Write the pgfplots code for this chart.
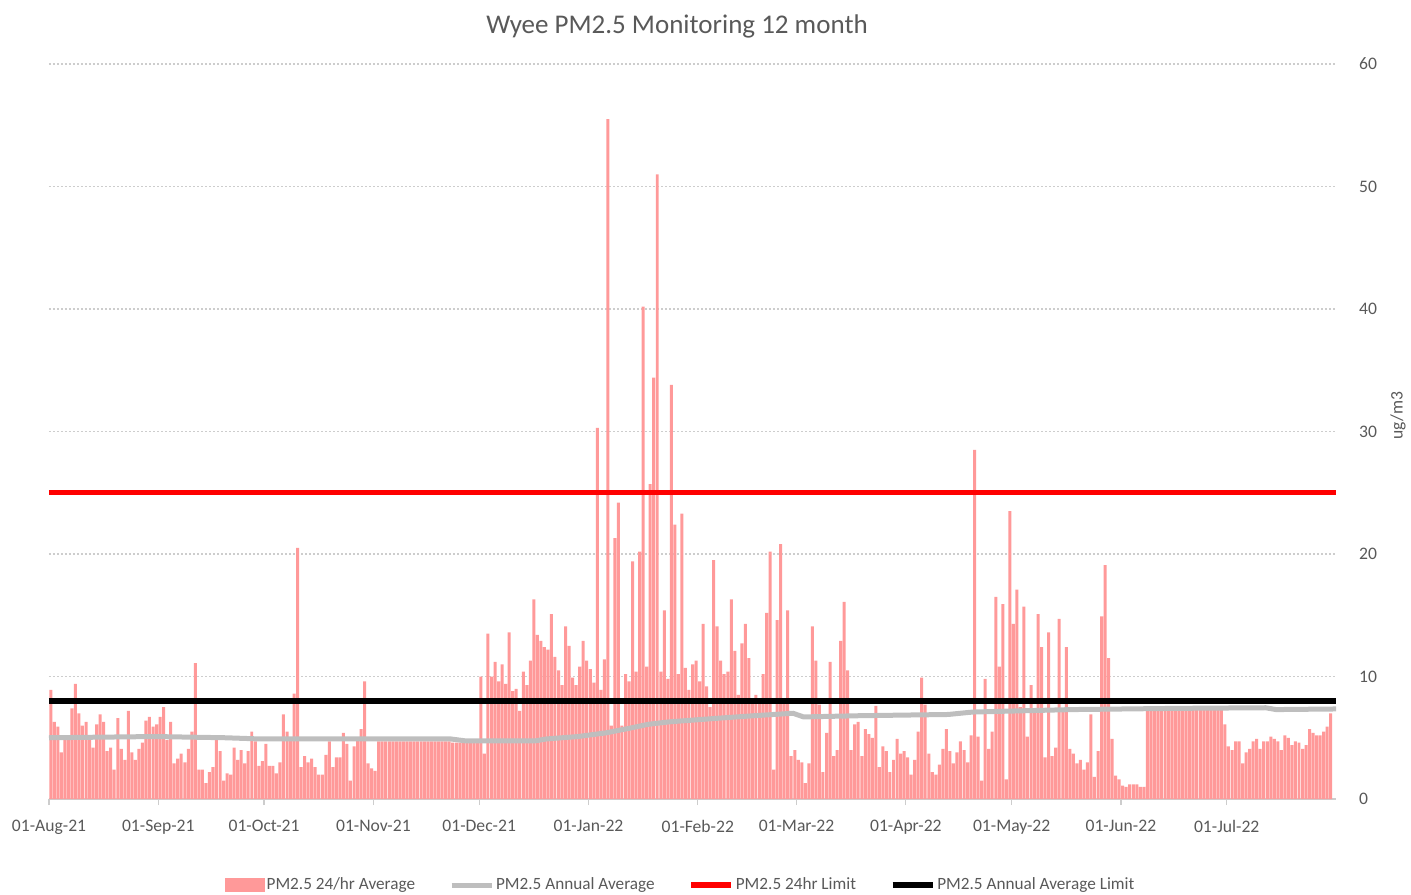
\documentclass[border=0pt]{standalone}
\usepackage{fontspec}
\setmainfont{Carlito}
\usepackage{pgfplots}
\usepackage{pgfplotstable}
\pgfplotsset{compat=1.18}
\definecolor{pm}{RGB}{255,153,153}
\definecolor{avg}{RGB}{190,190,190}
\definecolor{tcol}{RGB}{89,89,89}
\definecolor{gridc}{RGB}{205,205,205}

% daily PM2.5 24h averages, 01-Aug-21 ... 31-Jul-22 (one row per day)
\pgfplotstableread[row sep=\\]{
v\\
8.9\\6.3\\5.9\\3.8\\5.0\\4.8\\7.4\\9.4\\7.0\\6.0\\6.3\\5.0\\4.2\\6.1\\6.9\\6.3\\3.9\\4.2\\2.4\\6.6\\4.1\\3.2\\7.2\\3.8\\3.2\\4.1\\4.6\\6.4\\6.7\\5.9\\6.1\\
6.7\\7.5\\4.8\\6.3\\2.9\\3.3\\3.7\\3.0\\4.1\\5.5\\11.1\\2.4\\2.4\\1.3\\2.2\\2.6\\4.9\\3.9\\1.5\\2.1\\2.0\\4.2\\3.2\\4.0\\2.9\\3.9\\5.5\\4.7\\2.7\\3.1\\
4.5\\2.7\\2.7\\2.1\\3.0\\6.9\\5.5\\5.0\\8.6\\20.5\\2.6\\3.5\\3.0\\3.3\\2.6\\2.0\\2.0\\3.6\\4.7\\2.6\\3.4\\3.4\\5.4\\4.5\\1.5\\4.3\\4.9\\5.7\\9.6\\2.9\\2.5\\
2.3\\4.7\\4.7\\4.7\\4.7\\4.7\\4.7\\4.7\\4.7\\4.7\\4.7\\4.7\\4.7\\4.7\\4.7\\4.7\\4.7\\4.7\\4.7\\4.7\\4.7\\4.7\\4.6\\4.6\\4.6\\4.6\\4.6\\4.6\\4.6\\4.6\\
10.0\\3.7\\13.5\\10.0\\11.2\\9.6\\11.0\\9.4\\13.6\\8.8\\9.0\\7.2\\10.4\\9.3\\11.3\\16.3\\13.4\\12.9\\12.4\\12.2\\15.1\\11.6\\10.5\\9.3\\14.1\\12.5\\9.9\\9.3\\10.8\\12.9\\11.3\\
10.6\\9.5\\30.3\\8.9\\11.4\\55.5\\6.0\\21.3\\24.2\\6.0\\10.2\\9.6\\19.4\\10.4\\20.2\\40.2\\10.8\\25.7\\34.4\\51.0\\10.4\\15.4\\9.8\\33.8\\22.4\\10.2\\23.3\\10.7\\8.9\\11.0\\11.3\\
9.6\\14.3\\9.2\\7.5\\19.5\\14.1\\11.3\\10.2\\10.4\\16.3\\12.1\\8.5\\12.7\\14.3\\11.5\\7.9\\8.5\\7.9\\10.2\\15.2\\20.2\\2.4\\14.6\\20.8\\8.0\\15.4\\3.5\\4.0\\
3.2\\3.0\\1.3\\2.9\\14.1\\11.3\\7.7\\2.2\\5.4\\11.2\\3.5\\4.0\\12.9\\16.1\\10.5\\4.0\\6.1\\6.3\\3.5\\5.7\\5.3\\5.0\\7.6\\2.6\\4.3\\3.9\\2.2\\3.2\\4.9\\3.7\\3.9\\
3.4\\2.0\\3.2\\5.5\\9.9\\7.7\\3.7\\2.2\\2.0\\2.8\\4.1\\5.7\\3.9\\2.9\\3.8\\4.7\\4.0\\3.0\\5.2\\28.5\\5.1\\1.5\\9.8\\4.1\\5.5\\16.5\\10.8\\15.9\\1.6\\23.5\\
14.3\\17.1\\7.5\\15.7\\5.1\\9.3\\7.4\\15.1\\12.4\\3.4\\13.6\\3.5\\4.2\\14.7\\7.4\\12.4\\4.1\\3.7\\2.9\\3.2\\2.4\\3.0\\6.9\\1.8\\3.9\\14.9\\19.1\\11.5\\4.9\\1.9\\1.6\\
1.1\\1.0\\1.2\\1.2\\1.2\\1.0\\1.0\\7.4\\7.4\\7.4\\7.4\\7.4\\7.4\\7.4\\7.4\\7.4\\7.4\\7.4\\7.4\\7.4\\7.4\\7.4\\7.4\\7.4\\7.4\\7.4\\7.4\\7.4\\7.4\\
6.1\\4.3\\4.0\\4.7\\4.7\\2.9\\3.8\\4.1\\4.7\\4.9\\4.1\\4.7\\4.7\\5.1\\4.9\\4.7\\4.0\\5.2\\5.0\\4.4\\4.7\\4.6\\4.1\\4.4\\5.7\\5.4\\5.2\\5.2\\5.5\\5.9\\7.0\\
}\pmdata

\begin{document}
\begin{tikzpicture}
\begin{axis}[
  at={(0pt,0pt)}, anchor=south west,
  scale only axis, width=643.5pt, height=367.5pt,
  xmin=0, xmax=365, ymin=0, ymax=60,
  clip=false,
  axis x line*=bottom, axis y line*=right,
  x axis line style={draw=gridc, line width=0.6pt, -},
  y axis line style={draw=none},
  yticklabel pos=right,
  xtick={0,31,61,92,122,153,184,212,243,273,304,334},
  xticklabels={01-Aug-21,01-Sep-21,01-Oct-21,01-Nov-21,01-Dec-21,01-Jan-22,01-Feb-22,01-Mar-22,01-Apr-22,01-May-22,01-Jun-22,01-Jul-22},
  ytick={0,10,...,60},
  tick align=outside,
  major tick length=3pt,
  xtick style={draw=gridc, line width=0.6pt},
  ytick style={draw=none},
  ymajorgrids,
  grid style={gridc, line width=0.6pt, dash pattern=on 1.2pt off 0.8pt},
  tick label style={font=\fontsize{8.8}{10}\selectfont, text=tcol},
  /pgf/number format/assume math mode=true,
  yticklabel style={xshift=5pt},
  xticklabel style={yshift=-4pt},
  title={Wyee PM2.5 Monitoring 12 month},
  title style={at={(axis description cs:0.488,1)}, anchor=center, yshift=13pt,
    font=\fontsize{13.5}{16}\selectfont, text=tcol},
  legend columns=4,
  legend style={at={(axis description cs:0.5,0)}, anchor=center, yshift=-43pt, xshift=-6pt,
    draw=none, fill=none, font=\fontsize{8.6}{10}\selectfont, text=tcol,
    inner sep=0pt, nodes={inner sep=1pt},
    /tikz/every even column/.append style={column sep=16pt}},
  legend cell align=left,
]
\addplot[ybar, bar width=0.85, fill=pm, draw=none,
  legend image code/.code={\fill[pm] (0pt,-3.5pt) rectangle (20pt,3.5pt);}]
  table[x expr=\coordindex+0.5, y=v] {\pmdata};
\addlegendentry{PM2.5 24/hr Average}

\addplot[avg, line width=2.5pt,
  legend image code/.code={\draw[avg, line width=2.5pt] (0pt,0pt) -- (20pt,0pt);}]
  coordinates {(0,5.0) (30,5.1) (50,5.0) (60,4.9) (114,4.9) (118,4.75) (138,4.75) (141,4.9)
   (150,5.1) (158,5.4) (165,5.8) (170,6.1) (176,6.3) (190,6.6) (200,6.8) (211,7.0) (214,6.7)
   (230,6.8) (255,6.9) (262,7.1) (276,7.2) (290,7.3) (320,7.4) (345,7.45) (348,7.3) (365,7.35)};
\addlegendentry{PM2.5 Annual Average}

\addplot[red, line width=2.6pt,
  legend image code/.code={\draw[red, line width=2.6pt] (0pt,0pt) -- (20pt,0pt);}]
  coordinates {(0,25) (365,25)};
\addlegendentry{PM2.5 24hr Limit}

\addplot[black, line width=2.6pt,
  legend image code/.code={\draw[black, line width=2.6pt] (0pt,0pt) -- (20pt,0pt);}]
  coordinates {(0,8) (365,8)};
\addlegendentry{PM2.5 Annual Average Limit}

\node[rotate=90, font=\fontsize{8.8}{10}\selectfont, text=tcol]
  at ([xshift=31pt]rel axis cs:1,0.522) {ug/m3};
\end{axis}
\pgfresetboundingbox
\useasboundingbox (-24.5pt,-47.5pt) rectangle (681pt,399.5pt);
\end{tikzpicture}
\end{document}
